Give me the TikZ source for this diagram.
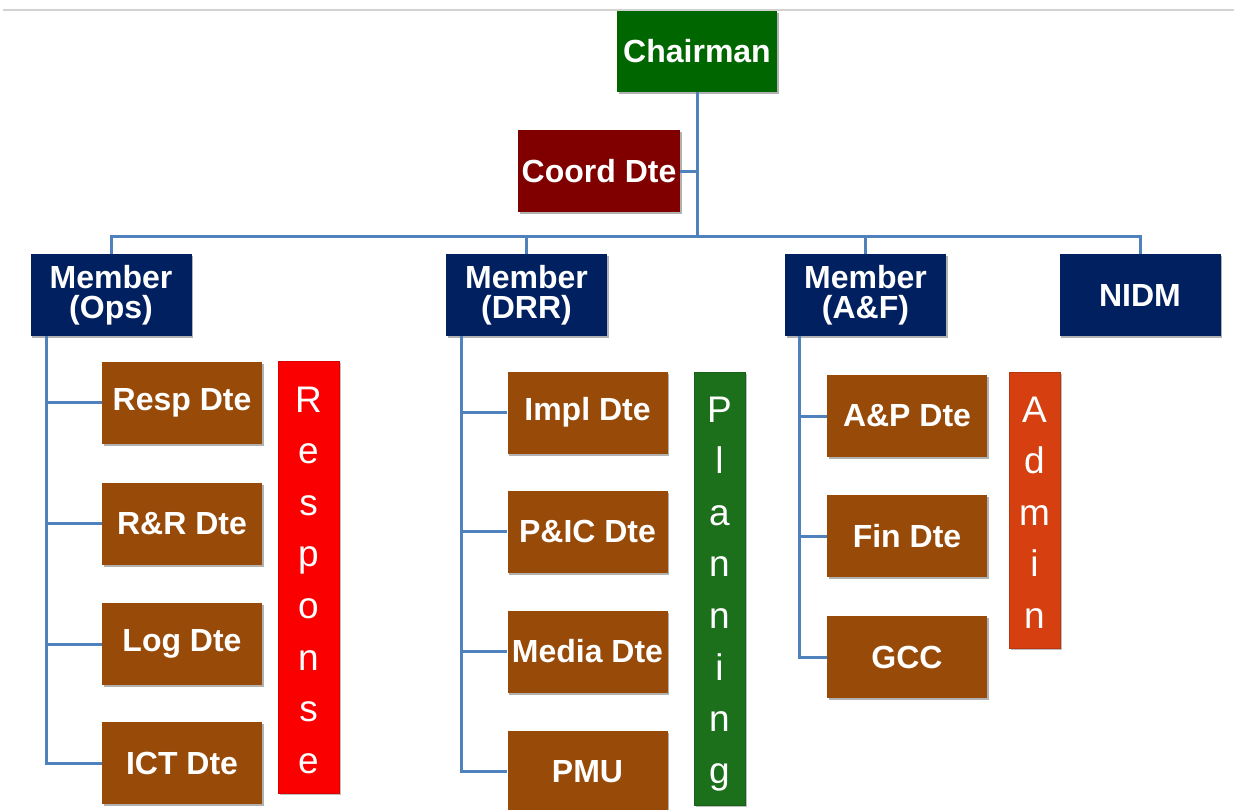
\documentclass[tikz,border=0pt]{standalone}
\usepackage{fontspec}
\setmainfont{Liberation Sans}
\usetikzlibrary{calc,shadows}
\definecolor{chgreen}{RGB}{0,102,0}
\definecolor{cdred}{RGB}{128,0,0}
\definecolor{navyblue}{RGB}{0,32,96}
\definecolor{dirbrown}{RGB}{152,74,8}
\definecolor{resred}{RGB}{250,0,0}
\definecolor{plangreen}{RGB}{28,112,28}
\definecolor{admorange}{RGB}{214,64,16}
\definecolor{connblue}{RGB}{79,129,189}
\begin{document}
\begin{tikzpicture}[x=1pt,y=-1pt,
  box/.style={minimum width=161pt, minimum height=82pt, inner sep=0pt,
    text=white, align=center, font=\bfseries\fontsize{32}{30}\selectfont,
    drop shadow={shadow xshift=1.5pt,shadow yshift=-2pt,fill=black,opacity=0.3}},
  chairbox/.style={box, fill=chgreen, minimum width=160pt, minimum height=81pt},
  coordbox/.style={box, fill=cdred, minimum width=162pt},
  memberbox/.style={box, fill=navyblue},
  dirbox/.style={box, fill=dirbrown, minimum width=160pt},
  bar/.style={inner sep=0pt, line width=1pt,
    drop shadow={shadow xshift=1.5pt,shadow yshift=-2pt,fill=black,opacity=0.25}},
  barletter/.style={text=white, anchor=base, inner sep=0pt,
    font=\fontsize{37}{37}\selectfont},
  conn/.style={draw=connblue, line width=3pt}]
\useasboundingbox (0,0) rectangle (1234,809);
\fill[white] (0,0) rectangle (1234,809);
% top rule
\coordinate (ruleL) at (3,10);
\coordinate (ruleR) at (1234,10);
\draw[gray!35, line width=2pt] (ruleL) -- (ruleR);

% boxes
\node[chairbox] (ch) at (697,51.5) {Chairman};
\node[coordbox] (cd) at (599,171) {Coord Dte};
\node[memberbox] (ops) at (111,295) {Member\\(Ops)};
\node[memberbox] (drr) at (526.5,295) {Member\\(DRR)};
\node[memberbox] (af) at (865.5,295) {Member\\(A\&F)};
\node[memberbox] (nidm) at (1140,295) {NIDM};

\node[dirbox] (resp) at (182,402.5) {Resp Dte};
\node[dirbox] (rr) at (182,523.5) {R\&R Dte};
\node[dirbox] (log) at (182,644) {Log Dte};
\node[dirbox] (ict) at (182,763) {ICT Dte};

\node[dirbox] (impl) at (587.5,412.5) {Impl Dte};
\node[dirbox] (pic) at (587.5,531.5) {P\&IC Dte};
\node[dirbox] (media) at (587.5,651.5) {Media Dte};
\node[dirbox] (pmu) at (587.5,771.5) {PMU};

\node[dirbox] (ap) at (907,416) {A\&P Dte};
\node[dirbox] (fin) at (907,536) {Fin Dte};
\node[dirbox] (gcc) at (907,657) {GCC};

% side bars
\node[bar, fill=resred, draw=red!85!black, minimum width=61pt, minimum height=432pt] (response) at (308.5,577) {};
\node[bar, fill=plangreen, draw=plangreen!85!black, minimum width=51pt, minimum height=433pt] (planning) at (719.5,588.5) {};
\node[bar, fill=admorange, draw=admorange!85!black, minimum width=51pt, minimum height=276pt] (admin) at (1034.5,510) {};

\foreach \l [count=\i from 0] in {R,e,s,p,o,n,s,e}
  \node[barletter] (rl\i) at ({308.5},{412+51.6*\i}) {\l};
\foreach \l [count=\i from 0] in {P,l,a,n,n,i,n,g}
  \node[barletter] (pl\i) at ({719.5},{422+51.6*\i}) {\l};
\foreach \l [count=\i from 0] in {A,d,m,i,n}
  \node[barletter] (al\i) at ({1034.5},{422+51.6*\i}) {\l};

% connectors
\coordinate (bus) at (0,236);
\draw[conn] (ch.south) -- (ch.south |- bus);
\draw[conn] (cd.east) -- (cd.east -| ch.south);
\draw[conn] (ops.north) -- (ops.north |- bus) -- (nidm.north |- bus) -- (nidm.north);
\draw[conn] (drr.north) -- (drr.north |- bus);
\draw[conn] (af.north) -- (af.north |- bus);

\coordinate (opsv) at ($(ops.south west)+(16,0)$);
\draw[conn] (opsv) -- (opsv |- ict.west) -- (ict.west);
\draw[conn] (opsv |- resp.west) -- (resp.west);
\draw[conn] (opsv |- rr.west) -- (rr.west);
\draw[conn] (opsv |- log.west) -- (log.west);

\coordinate (drrv) at ($(drr.south west)+(16,0)$);
\draw[conn] (drrv) -- (drrv |- pmu.west) -- (pmu.west);
\draw[conn] (drrv |- impl.west) -- (impl.west);
\draw[conn] (drrv |- pic.west) -- (pic.west);
\draw[conn] (drrv |- media.west) -- (media.west);

\coordinate (afv) at ($(af.south west)+(15,0)$);
\draw[conn] (afv) -- (afv |- gcc.west) -- (gcc.west);
\draw[conn] (afv |- ap.west) -- (ap.west);
\draw[conn] (afv |- fin.west) -- (fin.west);
\end{tikzpicture}
\end{document}
